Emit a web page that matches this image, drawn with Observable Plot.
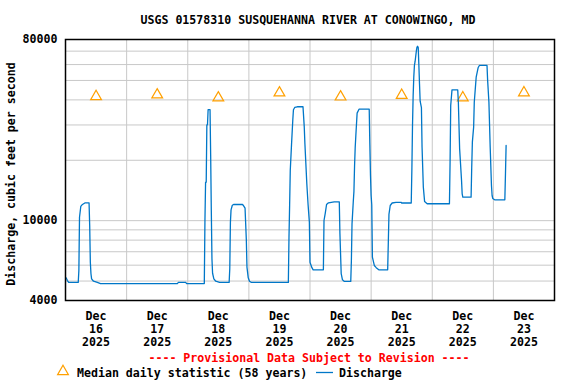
<!DOCTYPE html>
<html>
<head>
<meta charset="utf-8">
<script src="https://cdn.jsdelivr.net/npm/d3@7"></script>
<script src="https://cdn.jsdelivr.net/npm/@observablehq/plot@0.6"></script>
<style>
  html, body { margin: 0; padding: 0; background: #fff; }
  #wrap { position: relative; width: 576px; height: 384px; overflow: hidden;
          font-family: "DejaVu Sans Mono", monospace; font-weight: bold; font-size: 11.6px; color: #000; }
  .lbl { position: absolute; white-space: pre; line-height: 14px; }
</style>
</head>
<body>
<div id="wrap"></div>
<script>
// ---- data ----
const chartTitle = "USGS 01578310 SUSQUEHANNA RIVER AT CONOWINGO, MD";
const yTitle = "Discharge, cubic feet per second";
const provisionalText = "---- Provisional Data Subject to Revision ----";
const medianLabel = "Median daily statistic (58 years)";
const dischargeLabel = "Discharge";

const xDomain = ["2025-12-16T00:00Z", "2025-12-24T00:00Z"];
const xTickDates = ["2025-12-16T12:00Z","2025-12-17T12:00Z","2025-12-18T12:00Z","2025-12-19T12:00Z",
                    "2025-12-20T12:00Z","2025-12-21T12:00Z","2025-12-22T12:00Z","2025-12-23T12:00Z"];
const xGridDates = ["2025-12-17T00:00Z","2025-12-18T00:00Z","2025-12-19T00:00Z","2025-12-20T00:00Z",
                    "2025-12-21T00:00Z","2025-12-22T00:00Z","2025-12-23T00:00Z"];
const yDomain = [4000, 80000];
const yLabelTicks = [4000, 10000, 80000];
const yGridTicks = [5000, 6000, 7000, 8000, 9000, 10000, 20000, 30000, 40000, 50000, 60000, 70000];

// median daily statistic (one per day, plotted at noon)
const medianDates = xTickDates;
const medianCfs = [41600, 42400, 40970, 43380, 41400, 42200, 41000, 43400];

const dischargeTimes = [
 "2025-12-16T00:15Z","2025-12-16T00:45Z","2025-12-16T01:15Z","2025-12-16T05:00Z","2025-12-16T05:15Z","2025-12-16T05:30Z",
 "2025-12-16T06:00Z","2025-12-16T06:30Z","2025-12-16T07:45Z","2025-12-16T09:15Z","2025-12-16T09:30Z","2025-12-16T09:45Z",
 "2025-12-16T10:00Z","2025-12-16T10:15Z","2025-12-16T11:00Z","2025-12-16T12:30Z","2025-12-16T13:45Z",
 "2025-12-17T20:00Z","2025-12-17T20:15Z","2025-12-17T23:15Z","2025-12-17T23:30Z",
 "2025-12-18T06:30Z","2025-12-18T06:45Z","2025-12-18T07:00Z","2025-12-18T07:15Z","2025-12-18T07:30Z","2025-12-18T07:45Z",
 "2025-12-18T08:00Z","2025-12-18T08:45Z","2025-12-18T09:00Z","2025-12-18T09:15Z","2025-12-18T09:30Z","2025-12-18T09:45Z",
 "2025-12-18T10:15Z","2025-12-18T11:00Z","2025-12-18T12:30Z","2025-12-18T16:15Z","2025-12-18T16:30Z","2025-12-18T16:45Z",
 "2025-12-18T17:00Z","2025-12-18T17:30Z","2025-12-18T18:00Z","2025-12-18T21:30Z","2025-12-18T21:45Z","2025-12-18T22:30Z",
 "2025-12-18T23:00Z","2025-12-18T23:15Z","2025-12-18T23:45Z",
 "2025-12-19T00:15Z","2025-12-19T01:00Z","2025-12-19T15:30Z","2025-12-19T15:45Z","2025-12-19T16:00Z","2025-12-19T16:15Z",
 "2025-12-19T16:45Z","2025-12-19T17:15Z","2025-12-19T17:30Z","2025-12-19T18:00Z","2025-12-19T19:00Z","2025-12-19T21:15Z",
 "2025-12-19T21:45Z","2025-12-19T22:00Z","2025-12-19T22:45Z","2025-12-19T23:15Z","2025-12-19T23:45Z",
 "2025-12-20T00:00Z","2025-12-20T00:45Z","2025-12-20T01:15Z","2025-12-20T05:15Z","2025-12-20T05:30Z","2025-12-20T06:00Z",
 "2025-12-20T06:30Z","2025-12-20T07:15Z","2025-12-20T09:30Z","2025-12-20T11:30Z","2025-12-20T11:45Z","2025-12-20T12:15Z",
 "2025-12-20T12:45Z","2025-12-20T13:30Z","2025-12-20T16:00Z","2025-12-20T16:15Z","2025-12-20T16:30Z","2025-12-20T17:00Z",
 "2025-12-20T17:15Z","2025-12-20T17:30Z","2025-12-20T17:45Z","2025-12-20T18:00Z","2025-12-20T18:30Z","2025-12-20T19:15Z",
 "2025-12-20T23:15Z","2025-12-20T23:30Z","2025-12-20T23:45Z",
 "2025-12-21T00:00Z","2025-12-21T00:15Z","2025-12-21T00:30Z","2025-12-21T01:15Z","2025-12-21T02:00Z","2025-12-21T03:00Z",
 "2025-12-21T06:30Z","2025-12-21T06:45Z","2025-12-21T07:00Z","2025-12-21T07:30Z","2025-12-21T08:15Z","2025-12-21T09:45Z",
 "2025-12-21T11:45Z","2025-12-21T12:00Z","2025-12-21T15:45Z","2025-12-21T16:00Z","2025-12-21T16:15Z","2025-12-21T16:30Z",
 "2025-12-21T16:45Z","2025-12-21T17:00Z","2025-12-21T17:15Z","2025-12-21T17:30Z","2025-12-21T17:45Z","2025-12-21T18:00Z",
 "2025-12-21T18:15Z","2025-12-21T18:30Z","2025-12-21T18:45Z","2025-12-21T19:00Z","2025-12-21T19:15Z","2025-12-21T19:45Z",
 "2025-12-21T20:00Z","2025-12-21T20:30Z","2025-12-21T21:00Z","2025-12-21T22:00Z",
 "2025-12-22T06:45Z","2025-12-22T07:00Z","2025-12-22T07:15Z","2025-12-22T07:45Z","2025-12-22T10:00Z","2025-12-22T10:15Z",
 "2025-12-22T10:45Z","2025-12-22T11:30Z","2025-12-22T11:45Z","2025-12-22T12:00Z","2025-12-22T15:15Z","2025-12-22T15:30Z",
 "2025-12-22T15:45Z","2025-12-22T16:15Z","2025-12-22T16:30Z","2025-12-22T17:15Z","2025-12-22T18:00Z","2025-12-22T18:30Z",
 "2025-12-22T21:30Z","2025-12-22T21:45Z","2025-12-22T22:15Z","2025-12-22T22:45Z","2025-12-22T23:15Z","2025-12-22T23:30Z",
 "2025-12-22T23:45Z",
 "2025-12-23T00:30Z","2025-12-23T04:30Z","2025-12-23T04:45Z","2025-12-23T05:00Z"
];
const dischargeCfs = [
 5190, 5030, 4920, 4920, 5640, 10400,
 11770, 12000, 12280, 12280, 9460, 6210,
 5440, 5130, 4990, 4920, 4860,
 4860, 4920, 4920, 4860,
 4860, 10000, 15560, 15560, 30040, 30040,
 35800, 35800, 21130, 11250, 6460, 5470,
 5130, 4990, 4920, 4920, 5760, 9830,
 11320, 11940, 12040, 12040, 11940, 11540,
 8030, 5870, 5190,
 4990, 4920, 4920, 8270, 11940, 17790,
 24000, 31830, 35700, 36680, 36970, 36970,
 29250, 24160, 15270, 12000, 9830,
 6210, 5830, 5690, 5690, 10020, 10900,
 12040, 12280, 12420, 12420, 8600, 5440,
 5070, 4980, 4980, 6330, 9640, 12500,
 14000, 18840, 23240, 26580, 34360, 35960,
 35960, 24000, 16800,
 13350, 12000, 6580, 5980, 5830, 5690,
 5690, 7810, 10740, 11900, 12250, 12350,
 12350, 12250, 12250, 18000, 30000, 42000,
 52000, 59380, 62000, 65850, 70000, 73240,
 74000, 72900, 59380, 48000, 39400, 36600,
 23240, 14690, 12450, 12140,
 12140, 19570, 37500, 44890, 44890, 38950,
 22810, 15860, 13610, 13090, 13090, 18480,
 24620, 29250, 38950, 51930, 57810, 59380,
 59380, 49990, 38950, 23240, 14970, 13350,
 12900,
 12700, 12700, 17120, 23710
];

// ---- styles ----
const lineColor = "#0077C8";
const medianColor = "#FFA000";
const gridColor = "#C8C8C8";

// ---- build ----
const parse = s => new Date(s);
const discharge = dischargeTimes.map((t, i) => ({date: parse(t), cfs: dischargeCfs[i]}));
const medians = medianDates.map((t, i) => ({date: parse(t), cfs: medianCfs[i]}));

const fmtX = d3.utcFormat("%b\n%-d\n%Y");

const chart = Plot.plot({
  width: 576,
  height: 384,
  marginLeft: 65,
  marginRight: 22,
  marginTop: 39,
  marginBottom: 84,
  style: {fontFamily: "'DejaVu Sans Mono', monospace", fontWeight: "bold", fontSize: "11.6px", color: "#000", background: "#fff"},
  x: {type: "utc", domain: xDomain.map(parse)},
  y: {type: "log", domain: yDomain, axis: null},
  marks: [
    Plot.gridY(yGridTicks, {stroke: gridColor, strokeOpacity: 1, strokeWidth: 1}),
    Plot.gridX(xGridDates.map(parse), {stroke: gridColor, strokeOpacity: 1, strokeWidth: 1}),
    // y tick labels (text mark, so the domain-end ticks are not dropped)
    Plot.text(yLabelTicks, {y: d => d, text: d => String(d), frameAnchor: "left", textAnchor: "end", dx: -8, fill: "#000"}),
    Plot.axisX(xTickDates.map(parse), {tickSize: 0, tickPadding: 10, tickFormat: fmtX, lineHeight: 1.12, label: null, fill: "#000"}),
    Plot.dot(medians, {x: "date", y: "cfs", symbol: "triangle", r: 4, stroke: medianColor, fill: "none", strokeWidth: 1.2}),
    Plot.line(discharge, {x: "date", y: "cfs", stroke: lineColor, strokeWidth: 1.3}),
    Plot.frame({stroke: "#000", strokeWidth: 1.5})
  ]
});

const wrap = document.getElementById("wrap");
chart.style.position = "absolute";
chart.style.left = "0px";
chart.style.top = "0px";
wrap.appendChild(chart);

function addLabel(text, css) {
  const d = document.createElement("div");
  d.className = "lbl";
  d.textContent = text;
  Object.assign(d.style, css);
  wrap.appendChild(d);
  return d;
}
addLabel(chartTitle, {left: "308px", top: "13px", transform: "translateX(-50%)"});
addLabel(yTitle, {left: "11px", top: "174px", transform: "translate(-50%, -50%) rotate(-90deg)"});
addLabel(provisionalText, {left: "309px", top: "351px", transform: "translateX(-50%)", color: "#FF0000"});
addLabel(medianLabel, {left: "77px", top: "366px"});
addLabel(dischargeLabel, {left: "339px", top: "366px"});

// legend swatches
const ns = "http://www.w3.org/2000/svg";
const leg = document.createElementNS(ns, "svg");
leg.setAttribute("width", 576);
leg.setAttribute("height", 20);
leg.style.position = "absolute";
leg.style.left = "0px";
leg.style.top = "363px";
const tri = document.createElementNS(ns, "path");
tri.setAttribute("d", d3.symbol(d3.symbolTriangle, Math.PI * 16)());
tri.setAttribute("transform", "translate(63,8.5)");
tri.setAttribute("fill", "none");
tri.setAttribute("stroke", medianColor);
tri.setAttribute("stroke-width", 1.2);
leg.appendChild(tri);
const ln = document.createElementNS(ns, "line");
ln.setAttribute("x1", 316); ln.setAttribute("x2", 333);
ln.setAttribute("y1", 9.5); ln.setAttribute("y2", 9.5);
ln.setAttribute("stroke", lineColor);
ln.setAttribute("stroke-width", 1.3);
leg.appendChild(ln);
wrap.appendChild(leg);
</script>
</body>
</html>
